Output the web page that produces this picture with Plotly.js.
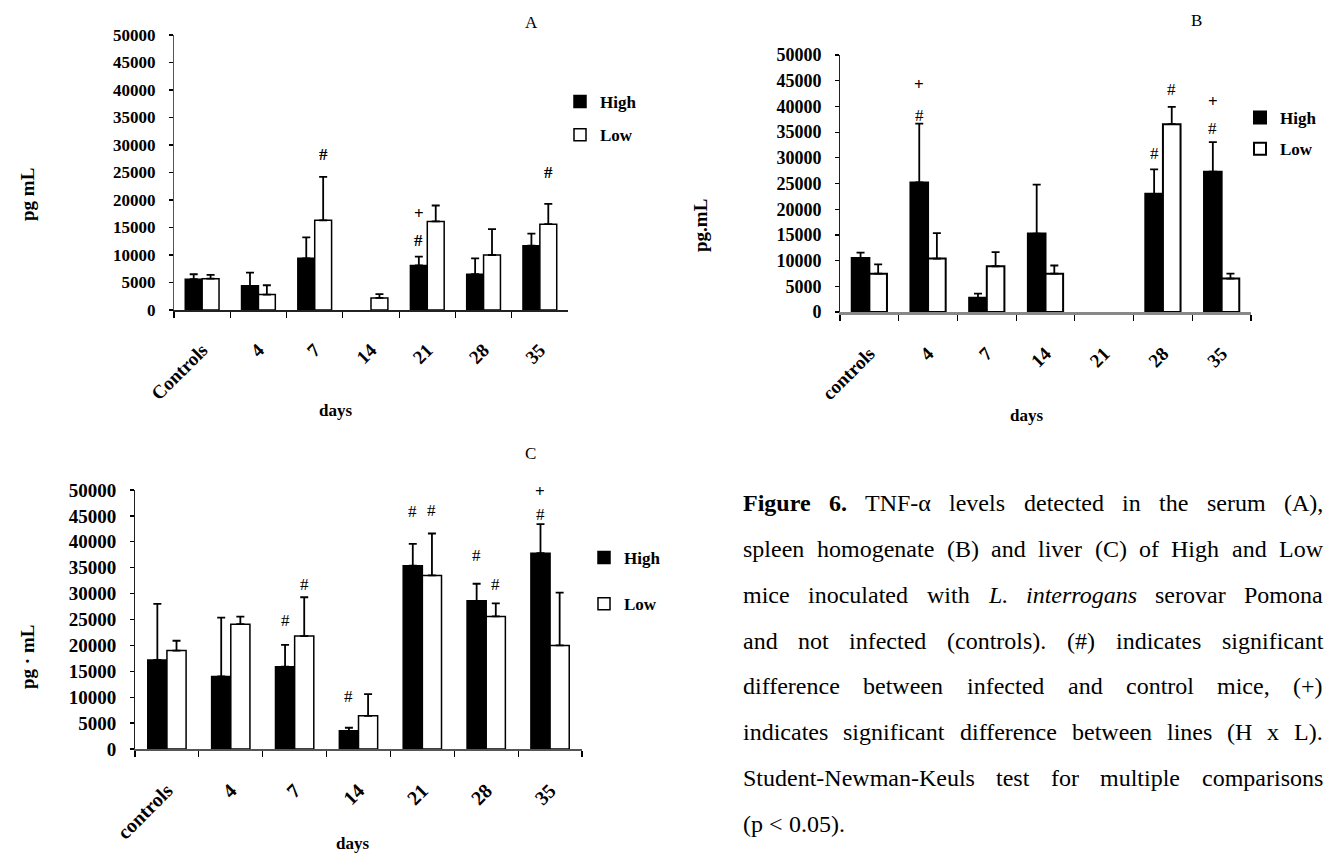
<!DOCTYPE html>
<html><head><meta charset="utf-8">
<script src="https://cdn.plot.ly/plotly-3.0.1.min.js"></script>
<style>html,body{margin:0;padding:0;background:#fff;} #chart{width:1326px;height:855px;}</style>
</head><body><div id="chart"></div>
<script>
// ---------------- DATA ----------------
const categoriesA = ['Controls', '4', '7', '14', '21', '28', '35'];
const categoriesB = ['controls', '4', '7', '14', '21', '28', '35'];
const categoriesC = ['controls', '4', '7', '14', '21', '28', '35'];
const seriesNames = ['High', 'Low'];
const yTickVals = [0, 5000, 10000, 15000, 20000, 25000, 30000, 35000, 40000, 45000, 50000];

// (A) serum, pg/mL  (mean and upper SD)
const serumHigh   = [5600, 4400, 9400, null, 8100, 6500, 11700];
const serumHighSD = [900, 2400, 3800, null, 1600, 2900, 2200];
const serumLow    = [5700, 2800, 16300, 2200, 16100, 10000, 15600];
const serumLowSD  = [700, 1700, 7900, 700, 2900, 4700, 3700];

// (B) spleen homogenate
const spleenHigh   = [10500, 25200, 2750, 15250, null, 23000, 27300];
const spleenHighSD = [1050, 11450, 830, 9550, null, 4750, 5750];
const spleenLow    = [7450, 10400, 8900, 7450, null, 36550, 6500];
const spleenLowSD  = [1820, 4950, 2750, 1600, null, 3350, 950];

// (C) liver
const liverHigh   = [17200, 14000, 15900, 3500, 35400, 28600, 37800];
const liverHighSD = [10800, 11350, 4200, 600, 4200, 3300, 5600];
const liverLow    = [19000, 24100, 21800, 6400, 33500, 25600, 20000];
const liverLowSD  = [1900, 1450, 7500, 4200, 8100, 2500, 10200];

// significance marks: [category index, series (0 = High, 1 = Low), symbol, y]
const marksA = [[2, 1, '#', 28200], [4, 0, '+', 17600], [4, 0, '#', 12700], [6, 1, '#', 25000]];
const marksB = [[1, 0, '+', 44200], [1, 0, '#', 38300], [5, 0, '#', 30800], [5, 1, '#', 43200],
                [6, 0, '+', 40900], [6, 0, '#', 35700]];
const marksC = [[2, 0, '#', 24900], [2, 1, '#', 31800], [3, 0, '#', 10100], [4, 0, '#', 45800],
                [4, 1, '#', 46100], [5, 0, '#', 37300], [5, 1, '#', 31700], [6, 0, '+', 49700],
                [6, 0, '#', 45200]];

const panelLetters = ['A', 'B', 'C'];
const yTitles = ['pg mL', 'pg.mL', 'pg \u00B7 mL'];
const xTitle = 'days';

// caption (*bold*, _italic_)
const captionLines = [
  '*Figure* *6.* TNF-\u03B1 levels detected in the serum (A),',
  'spleen homogenate (B) and liver (C) of High and Low',
  'mice inoculated with _L._ _interrogans_ serovar Pomona',
  'and not infected (controls). (#) indicates significant',
  'difference between infected and control mice, (+)',
  'indicates significant difference between lines (H x L).',
  'Student-Newman-Keuls test for multiple comparisons',
  '(p < 0.05).'
];

// ---------------- LAYOUT HELPERS ----------------
const W = 1326, H = 855;
const px = v => v / W;
const py = v => 1 - v / H;
const SERIF = '"Liberation Serif", "Times New Roman", serif';
const BARGAP = 0.4;
const OFF = (1 - BARGAP) / 4;

const panels = [
  {cats: categoriesA, hi: serumHigh, hiSD: serumHighSD, lo: serumLow, loSD: serumLowSD, marks: marksA,
   xd: [174, 568], yd: [35, 310], tick: 17, xtick: 19, xline: {c: '#222', w: 1.5}, yline: {c: '#555', w: 1},
   letter: [531, 22], ytitle: [27, 195], xtitle: [335, 410], leg: [560, 84], gap: 8, bw: 1.5, markBold: true},
  {cats: categoriesB, hi: spleenHigh, hiSD: spleenHighSD, lo: spleenLow, loSD: spleenLowSD, marks: marksB,
   xd: [840, 1251], yd: [55, 312], tick: 18, xtick: 19, xline: {c: '#888', w: 3}, yline: {c: '#222', w: 1},
   letter: [1196, 21], ytitle: [700, 226], xtitle: [1026, 415], leg: [1240, 100], gap: 6, bw: 2, markBold: false},
  {cats: categoriesC, hi: liverHigh, hiSD: liverHighSD, lo: liverLow, loSD: liverLowSD, marks: marksC,
   xd: [135, 582], yd: [490, 749], tick: 19, xtick: 20, xline: {c: '#555', w: 2}, yline: {c: '#222', w: 1},
   letter: [530, 453], ytitle: [27, 657], xtitle: [352, 843], leg: [584, 540], gap: 21, bw: 1.5, markBold: false}
];

const data = [];
const annotations = [];
const layout = {
  width: W, height: H, margin: {l: 0, r: 0, t: 0, b: 0},
  paper_bgcolor: '#fff', plot_bgcolor: '#fff',
  barmode: 'group', bargap: BARGAP, bargroupgap: 0,
  font: {family: SERIF, color: '#000'},
  annotations: annotations, showlegend: true
};

panels.forEach((p, i) => {
  const s = i === 0 ? '' : String(i + 1);
  const xa = 'x' + s, ya = 'y' + s;
  const legName = 'legend' + s;
  const zeros = arr => arr.map(v => v == null ? null : 0);
  [[p.hi, p.hiSD, '#000'], [p.lo, p.loSD, '#fff']].forEach((d, k) => {
    data.push({
      type: 'bar', x: p.cats, y: d[0], name: seriesNames[k], xaxis: xa, yaxis: ya,
      legend: legName, legendgroup: 'g' + i + k, showlegend: true,
      marker: {color: d[2], line: {color: '#000', width: p.bw}},
      error_y: {type: 'data', symmetric: false, array: d[1], arrayminus: zeros(d[1]),
                color: '#000', thickness: 1.8, width: 4},
      hoverinfo: 'x+y+name'
    });
  });
  layout['xaxis' + s] = {
    domain: [px(p.xd[0]), px(p.xd[1])], anchor: ya, type: 'category',
    tickson: 'boundaries', ticks: 'outside', ticklen: 6, tickcolor: '#000', tickwidth: 1.2,
    showline: true, linecolor: p.xline.c, linewidth: p.xline.w, showgrid: false, zeroline: false,
    tickangle: -45, ticklabelstandoff: 20,
    tickfont: {family: SERIF, size: p.xtick, color: '#000', weight: 'bold'}
  };
  layout['yaxis' + s] = {
    domain: [py(p.yd[1]), py(p.yd[0])], anchor: xa, range: [0, 50000],
    tickmode: 'array', tickvals: yTickVals, tickformat: 'd',
    ticks: 'outside', ticklen: 4, tickcolor: '#000', tickwidth: 1.2,
    showline: true, linecolor: p.yline.c, linewidth: p.yline.w, showgrid: false, zeroline: false,
    ticklabelstandoff: 10,
    tickfont: {family: SERIF, size: p.tick, color: '#000', weight: 'bold'}
  };
  layout[legName] = {
    x: px(p.leg[0]), y: py(p.leg[1]), xanchor: 'left', yanchor: 'top',
    bgcolor: 'rgba(0,0,0,0)', borderwidth: 0, tracegroupgap: p.gap,
    font: {family: SERIF, size: 17, color: '#000', weight: 'bold'}
  };
  // significance marks
  p.marks.forEach(m => {
    annotations.push({
      xref: xa, yref: ya, x: m[0] + (m[1] === 0 ? -OFF : OFF), y: m[3], text: m[2],
      showarrow: false, xanchor: 'center', yanchor: 'middle',
      font: {family: SERIF, size: 17, color: '#000',
             weight: (m[2] === '+' || p.markBold) ? 'bold' : 'normal'}
    });
  });
  // panel letter
  annotations.push({xref: 'paper', yref: 'paper', x: px(p.letter[0]), y: py(p.letter[1]),
    text: panelLetters[i], showarrow: false, xanchor: 'center', yanchor: 'middle',
    font: {family: SERIF, size: 17, color: '#000'}});
  // y title
  annotations.push({xref: 'paper', yref: 'paper', x: px(p.ytitle[0]), y: py(p.ytitle[1]),
    text: yTitles[i], textangle: -90, showarrow: false, xanchor: 'center', yanchor: 'middle',
    font: {family: SERIF, size: 19, color: '#000', weight: 'bold'}});
  // x title
  annotations.push({xref: 'paper', yref: 'paper', x: px(p.xtitle[0]), y: py(p.xtitle[1]),
    text: xTitle, showarrow: false, xanchor: 'center', yanchor: 'middle',
    font: {family: SERIF, size: 17, color: '#000', weight: 'bold'}});
});

// ---------------- CAPTION (justified) ----------------
const CAP_FS = 24, CAP_L = 742, CAP_R = 1322, CAP_BASE0 = 510, CAP_LH = 45.9;
const ctx = document.createElement('canvas').getContext('2d');
function parseWord(w) {
  if (/^\*.*\*$/.test(w)) return {t: w.slice(1, -1), b: true, i: false};
  if (/^_.*_$/.test(w)) return {t: w.slice(1, -1), b: false, i: true};
  return {t: w, b: false, i: false};
}
function fontStr(o) { return (o.i ? 'italic ' : '') + (o.b ? 'bold ' : '') + CAP_FS + 'px "Liberation Serif"'; }
function esc(t) { return t.replace(/&/g, '&amp;').replace(/</g, '&lt;').replace(/>/g, '&gt;'); }
captionLines.forEach((line, li) => {
  const words = line.split(' ').map(parseWord);
  words.forEach(w => { ctx.font = fontStr(w); w.w = ctx.measureText(w.t).width; });
  ctx.font = fontStr({});
  const spaceW = ctx.measureText(' ').width;
  const total = words.reduce((a, w) => a + w.w, 0);
  const last = li === captionLines.length - 1;
  const gap = (last || words.length < 2) ? spaceW : (CAP_R - CAP_L - total) / (words.length - 1);
  let xPos = CAP_L;
  const yc = CAP_BASE0 + li * CAP_LH - CAP_FS * 0.3;
  words.forEach(w => {
    let txt = esc(w.t);
    if (w.b) txt = '<b>' + txt + '</b>';
    if (w.i) txt = '<i>' + txt + '</i>';
    annotations.push({xref: 'paper', yref: 'paper', x: px(xPos), y: py(yc), text: txt,
      showarrow: false, xanchor: 'left', yanchor: 'middle', borderpad: 0,
      font: {family: SERIF, size: CAP_FS, color: '#000'}});
    xPos += w.w + gap;
  });
});

Plotly.newPlot('chart', data, layout, {displayModeBar: false, staticPlot: true});
</script>
</body></html>
